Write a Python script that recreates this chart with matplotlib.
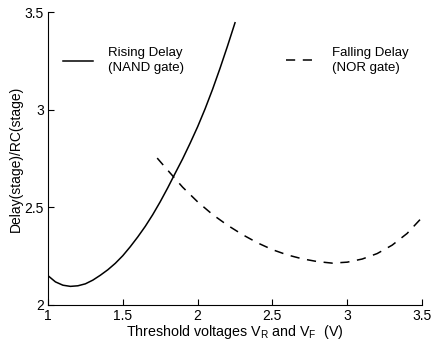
import matplotlib
matplotlib.use('Agg')
import matplotlib.pyplot as plt

plt.rcParams['font.family'] = ['Liberation Sans', 'DejaVu Sans']

# Rising delay (NAND gate)
rise_v = [1.0, 1.05, 1.1, 1.15, 1.2, 1.25, 1.3, 1.35, 1.4, 1.45, 1.5, 1.55, 1.6, 1.65,
          1.7, 1.75, 1.8, 1.85, 1.9, 1.95, 2.0, 2.05, 2.1, 2.15, 2.2, 2.25]
rise_d = [2.150, 2.118, 2.101, 2.095, 2.098, 2.108, 2.127, 2.152, 2.180, 2.213,
          2.252, 2.298, 2.348, 2.402, 2.462, 2.528, 2.599, 2.674, 2.748, 2.828,
          2.912, 3.004, 3.104, 3.212, 3.326, 3.445]

# Falling delay (NOR gate)
fall_v = [1.73, 1.8, 1.9, 2.0, 2.1, 2.2, 2.3, 2.4, 2.5, 2.6, 2.7, 2.8, 2.9,
          3.0, 3.1, 3.2, 3.3, 3.4, 3.5]
fall_d = [2.752, 2.69, 2.603, 2.528, 2.463, 2.408, 2.360, 2.318, 2.283, 2.256, 2.236,
          2.222, 2.214, 2.219, 2.235, 2.263, 2.306, 2.366, 2.448]

x_ticks = [1, 1.5, 2, 2.5, 3, 3.5]
x_labels = ['1', '1.5', '2', '2.5', '3', '3.5']
y_ticks = [2, 2.5, 3, 3.5]
y_labels = ['2', '2.5', '3', '3.5']

fig = plt.figure(figsize=(4.32, 3.43), dpi=100)
ax = fig.add_axes([0.111, 0.111, 0.866, 0.854])

ax.plot(rise_v, rise_d, color='black', lw=1.1)
ax.plot(fall_v, fall_d, color='black', lw=1.1, dashes=(6, 5))

ax.set_xlim(1, 3.5)
ax.set_ylim(2, 3.5)
ax.set_xticks(x_ticks)
ax.set_xticklabels(x_labels)
ax.set_yticks(y_ticks)
ax.set_yticklabels(y_labels)
ax.tick_params(direction='in', length=4, width=0.8, labelsize=10, pad=3)

ax.spines['top'].set_visible(False)
ax.spines['right'].set_visible(False)

ax.set_xlabel('Threshold voltages V$_\\mathregular{R}$ and V$_\\mathregular{F}$  (V)',
              fontsize=10.3, labelpad=0)
ax.set_ylabel('Delay(stage)/RC(stage)', fontsize=10, labelpad=1)

# legend entries placed like the reference
ax.plot([1.1, 1.3], [3.25, 3.25], color='black', lw=1.1)
ax.text(1.4, 3.25, 'Rising Delay\n(NAND gate)', fontsize=9.5, va='center', ha='left',
        linespacing=1.35)
ax.plot([2.59, 2.79], [3.255, 3.255], color='black', lw=1.1, dashes=(6, 5))
ax.text(2.9, 3.25, 'Falling Delay\n(NOR gate)', fontsize=9.5, va='center', ha='left',
        linespacing=1.35)

fig.savefig('out.png', dpi=100)
